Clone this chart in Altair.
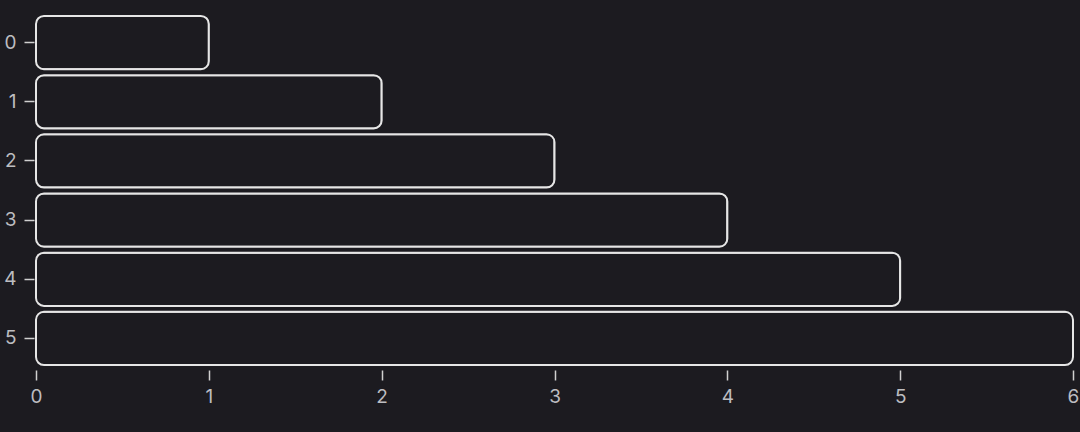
import altair as alt
import pandas as pd

categories = ["0", "1", "2", "3", "4", "5"]
values = [1, 2, 3, 4, 5, 6]

df = pd.DataFrame({"cat": categories, "val": values})

BG = "#1c1b20"

chart = alt.Chart(df).mark_bar(
    fill=BG, stroke="#e6e6e6", strokeWidth=2, cornerRadius=8
).encode(
    x=alt.X("val:Q", scale=alt.Scale(domain=[0, 6], nice=False), title=None,
            axis=alt.Axis(values=[0, 1, 2, 3, 4, 5, 6], grid=False, domain=False,
                          labelFlush=False, labelPadding=7)),
    y=alt.Y("cat:N", sort=categories, title=None,
            scale=alt.Scale(paddingInner=0.1, paddingOuter=0.05),
            axis=alt.Axis(grid=False, domain=False, labelPadding=8)),
).properties(
    width=1080, height=432, background=BG,
    autosize=alt.AutoSizeParams(type="fit", contains="padding"),
    padding={"left": 3, "top": 13, "right": 1, "bottom": 26},
).configure_view(
    stroke=None
).configure_axis(
    labelColor="#bdbdc0", tickColor="#d0d0d0", labelFont="Inter",
    labelFontSize=19, tickSize=10, offset=2, tickWidth=1.5
)

chart.save("out.html", embed_options={"renderer": "svg", "actions": False})
